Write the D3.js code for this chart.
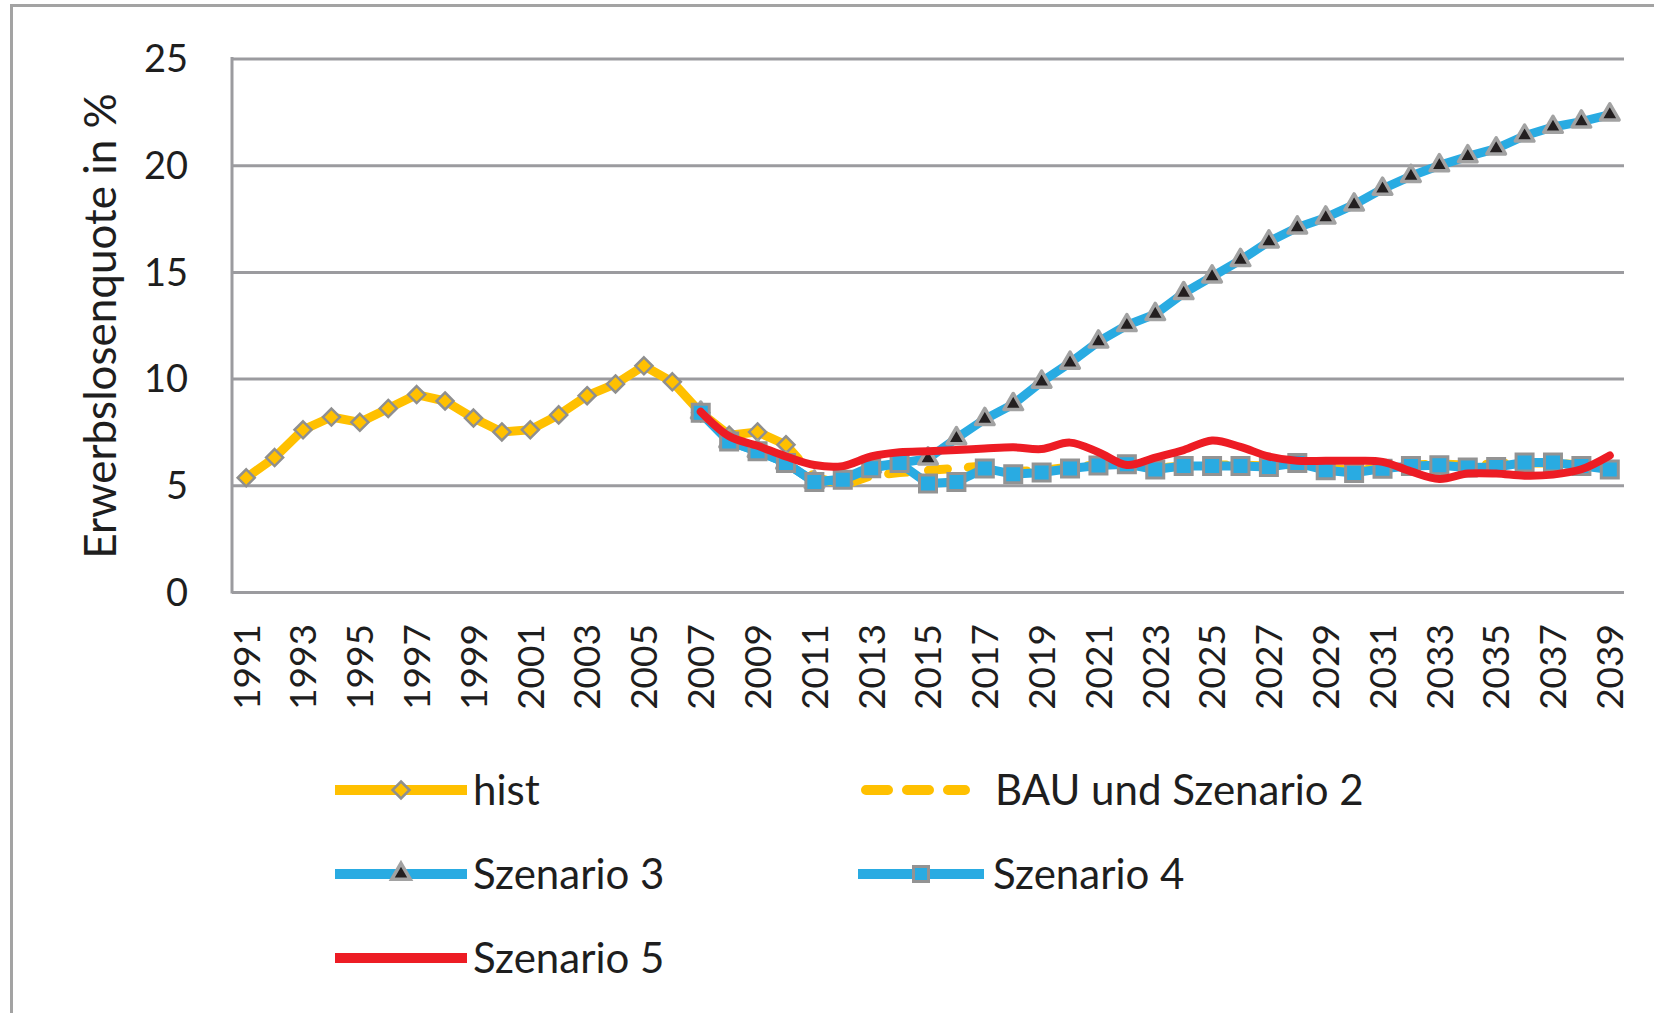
<!DOCTYPE html>
<html><head><meta charset="utf-8">
<script src="https://cdn.jsdelivr.net/npm/d3@7"></script>
<style>html,body{margin:0;padding:0;background:#fff;}svg{display:block;}</style>
</head><body>
<svg id="chart" width="1654" height="1013"></svg>
<script>
const years = [1991,1992,1993,1994,1995,1996,1997,1998,1999,2000,2001,2002,2003,2004,2005,2006,2007,2008,2009,2010,2011,2012,2013,2014,2015,2016,2017,2018,2019,2020,2021,2022,2023,2024,2025,2026,2027,2028,2029,2030,2031,2032,2033,2034,2035,2036,2037,2038,2039];
const yTicks = [0,5,10,15,20,25];
const xTickLabels = years.filter(y => y % 2 === 1);

const histStart = 1991;
const hist = [5.35,6.3,7.6,8.2,7.95,8.6,9.25,8.95,8.15,7.5,7.6,8.3,9.2,9.75,10.6,9.85,8.4,7.35,7.5,6.9];

const bauStart = 2010;
const bau = [6.9,5.4,5.0,5.45,5.6,5.7,5.8,5.9,5.65,5.7,5.85,5.95,6.0,5.8,5.9,5.95,5.95,5.9,6.0,5.8,5.7,5.8,5.95,6.0,5.95,6.0,6.05,6.05,5.95,5.8];

const szStart = 2007;
const sz3 = [8.4,7.05,6.6,6.05,5.16,5.3,5.87,6.04,6.25,7.2,8.1,8.8,9.85,10.74,11.73,12.5,13.02,14.0,14.78,15.55,16.42,17.08,17.54,18.15,18.89,19.49,19.99,20.41,20.78,21.38,21.79,22.04,22.37];
const sz4 = [8.4,7.05,6.6,6.05,5.16,5.26,5.8,6.04,5.08,5.16,5.79,5.52,5.6,5.79,5.93,5.99,5.74,5.91,5.91,5.91,5.86,6.04,5.71,5.58,5.78,5.91,5.94,5.83,5.86,6.07,6.07,5.91,5.74];
const sz5 = [8.45,7.3,6.85,6.35,5.95,5.9,6.35,6.55,6.6,6.65,6.72,6.78,6.7,7.0,6.55,5.95,6.3,6.65,7.1,6.8,6.35,6.15,6.15,6.15,6.1,5.65,5.3,5.55,5.55,5.45,5.5,5.75,6.4];

const legendLabels = ["hist","BAU und Szenario 2","Szenario 3","Szenario 4","Szenario 5"];

const YELLOW = "#FFC000", BLUE = "#29ABE2", RED = "#ED1C24", GRID = "#9b9b9f", MGRAY = "#8f8f8f", DARK = "#231F20";
const FONT = "Lato, 'Open Sans', sans-serif";

const svg = d3.select("#chart");
const X0 = 232, X1 = 1624, YT = 58.5, YB = 592;
const x = d3.scaleBand().domain(years).range([X0, X1]).padding(0);
const cx = yr => x(yr) + x.bandwidth() / 2;
const y = d3.scaleLinear().domain([0, 25]).range([YB, YT]);

// outer frame (partial)
svg.append("path").attr("d", "M11.5,1013 V5.5 H1654").attr("fill", "none").attr("stroke", "#a3a3a3").attr("stroke-width", 3);

// gridlines
const yAxis = d3.axisLeft(y).tickValues(yTicks).tickSize(-(X1 - X0)).tickFormat("");
const ga = svg.append("g").attr("transform", `translate(${X0},0)`).call(yAxis);
ga.select(".domain").remove();
ga.selectAll(".tick line").attr("stroke", GRID).attr("stroke-width", 3);
svg.append("line").attr("x1", X0).attr("x2", X0).attr("y1", YT - 1.5).attr("y2", YB + 1.5).attr("stroke", GRID).attr("stroke-width", 3);

// y tick labels
svg.append("g").selectAll("text").data(yTicks).join("text")
  .attr("x", 188).attr("y", d => y(d)).attr("dy", "0.36em")
  .attr("text-anchor", "end").attr("font-family", FONT).attr("font-size", 38).attr("fill", "#1e1e1e")
  .text(d => d);

// x tick labels
svg.append("g").selectAll("text").data(xTickLabels).join("text")
  .attr("transform", d => `translate(${cx(d)},624) rotate(-90)`)
  .attr("dy", "0.36em").attr("text-anchor", "end")
  .attr("font-family", FONT).attr("font-size", 37).attr("fill", "#1e1e1e")
  .text(d => d);

// y axis title
svg.append("text").attr("transform", "translate(116,326) rotate(-90)")
  .attr("text-anchor", "middle").attr("font-family", FONT).attr("font-size", 44).attr("fill", "#1e1e1e")
  .text("Erwerbslosenquote in %");

const toPts = (arr, start) => arr.map((v, i) => ({yr: start + i, v}));
const line = d3.line().x(d => cx(d.yr)).y(d => y(d.v));
const smooth = d3.line().x(d => cx(d.yr)).y(d => y(d.v)).curve(d3.curveCatmullRom.alpha(0.5));

const diamond = r => `M0,${-r} L${r},0 L0,${r} L${-r},0 Z`;
const square = s => `M${-s/2},${-s/2} h${s} v${s} h${-s} Z`;
const tri = d3.symbol().type(d3.symbolTriangle).size(150)();

// hist
const histPts = toPts(hist, histStart);
svg.append("path").datum(histPts).attr("d", line).attr("fill", "none").attr("stroke", YELLOW).attr("stroke-width", 9).attr("stroke-linejoin", "round");
// BAU
const bauPts = toPts(bau, bauStart);
svg.append("path").datum(bauPts).attr("d", line).attr("fill", "none").attr("stroke", YELLOW).attr("stroke-width", 9)
  .attr("stroke-dasharray", "19,21").attr("stroke-linecap", "round");
svg.append("g").selectAll("path").data(histPts).join("path")
  .attr("transform", d => `translate(${cx(d.yr)},${y(d.v)})`).attr("d", diamond(8.5))
  .attr("fill", YELLOW).attr("stroke", MGRAY).attr("stroke-width", 2.5);

// Szenario 3
const s3Pts = toPts(sz3, szStart);
svg.append("path").datum(s3Pts).attr("d", line).attr("fill", "none").attr("stroke", BLUE).attr("stroke-width", 9).attr("stroke-linejoin", "round");
svg.append("g").selectAll("path").data(s3Pts).join("path")
  .attr("transform", d => `translate(${cx(d.yr)},${y(d.v)})`).attr("d", tri)
  .attr("fill", DARK).attr("stroke", "#a2a2a2").attr("stroke-width", 3.5).attr("stroke-linejoin", "round");

// Szenario 4
const s4Pts = toPts(sz4, szStart);
svg.append("path").datum(s4Pts).attr("d", line).attr("fill", "none").attr("stroke", BLUE).attr("stroke-width", 9).attr("stroke-linejoin", "round");
svg.append("g").selectAll("path").data(s4Pts).join("path")
  .attr("transform", d => `translate(${cx(d.yr)},${y(d.v)})`).attr("d", square(17))
  .attr("fill", BLUE).attr("stroke", "#939393").attr("stroke-width", 3);

// Szenario 5
const s5Pts = toPts(sz5, szStart);
svg.append("path").datum(s5Pts).attr("d", smooth).attr("fill", "none").attr("stroke", RED).attr("stroke-width", 8).attr("stroke-linecap", "round");

// legend
const leg = svg.append("g");
const legItems = [
  {label: legendLabels[0], x1: 335, x2: 467, tx: 473, ty: 790, color: YELLOW, marker: "diamond"},
  {label: legendLabels[1], x1: 862, x2: 965, tx: 995, ty: 790, color: YELLOW, dash: true},
  {label: legendLabels[2], x1: 335, x2: 467, tx: 473, ty: 874, color: BLUE, marker: "tri"},
  {label: legendLabels[3], x1: 858, x2: 984, tx: 993, ty: 874, color: BLUE, marker: "square"},
  {label: legendLabels[4], x1: 335, x2: 467, tx: 473, ty: 958, color: RED}
];
legItems.forEach(it => {
  const ln = leg.append("line").attr("x1", it.x1).attr("x2", it.x2).attr("y1", it.ty).attr("y2", it.ty)
    .attr("stroke", it.color).attr("stroke-width", 10);
  if (it.dash) ln.attr("stroke-dasharray", "22,19").attr("stroke-linecap", "round").attr("x1", it.x1 + 4);
  const mx = (it.x1 + it.x2) / 2;
  if (it.marker === "diamond") leg.append("path").attr("transform", `translate(${mx},${it.ty})`).attr("d", diamond(8.5)).attr("fill", YELLOW).attr("stroke", MGRAY).attr("stroke-width", 2.5);
  if (it.marker === "tri") leg.append("path").attr("transform", `translate(${mx},${it.ty})`).attr("d", tri).attr("fill", DARK).attr("stroke", "#a2a2a2").attr("stroke-width", 3.5);
  if (it.marker === "square") leg.append("path").attr("transform", `translate(${mx},${it.ty})`).attr("d", square(15)).attr("fill", BLUE).attr("stroke", "#939393").attr("stroke-width", 3);
  leg.append("text").attr("x", it.tx).attr("y", it.ty).attr("dy", "0.36em")
    .attr("font-family", FONT).attr("font-size", 42).attr("fill", "#1e1e1e").text(it.label);
});
</script>
</body></html>
